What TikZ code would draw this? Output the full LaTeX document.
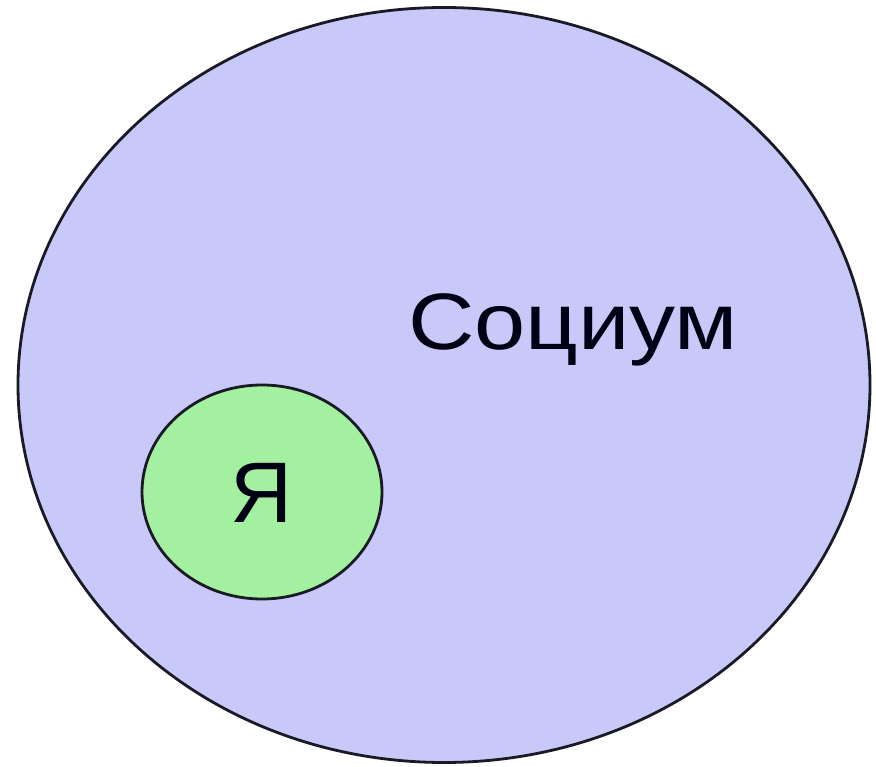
\documentclass[tikz,border=0pt]{standalone}
\usepackage{fontspec}
\setmainfont{Liberation Sans}
\usetikzlibrary{shapes.geometric}
\definecolor{lav}{HTML}{C9C9F9}
\definecolor{grn}{HTML}{A2F0A0}
\definecolor{edge}{HTML}{1A1A26}
\tikzset{
  blob/.style={ellipse, draw=edge, line width=2.8pt, inner sep=0pt},
  lbl/.style={anchor=base, inner sep=0pt, text=black!92!blue}
}
\begin{document}
\begin{tikzpicture}[x=1pt,y=-1pt]
\useasboundingbox (0,0) rectangle (876,767);
\node[blob, fill=lav, minimum width=852pt, minimum height=755pt] (soc) at (444,385) {};
\node[blob, fill=grn, minimum width=240pt, minimum height=214pt] (ya) at (262,492) {};
\node[lbl, font=\fontsize{80}{80}\selectfont, xscale=1.15] (soctext) at (573,350) {Социум};
\node[lbl, font=\fontsize{86}{86}\selectfont] (yatext) at (262,522) {Я};
\end{tikzpicture}
\end{document}
